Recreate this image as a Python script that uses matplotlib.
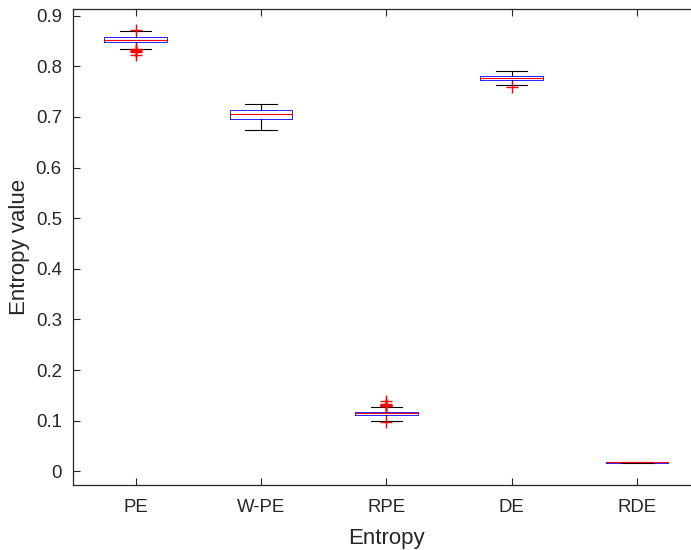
import matplotlib
matplotlib.use("Agg")
import matplotlib.pyplot as plt

plt.rcParams['font.family'] = ['Liberation Sans', 'DejaVu Sans']

# box statistics
labels = ["PE", "W-PE", "RPE", "DE", "RDE"]
medians = [0.852, 0.705, 0.1146, 0.776, 0.0178]
q1 = [0.847, 0.695, 0.1107, 0.7727, 0.0176]
q3 = [0.857, 0.7127, 0.1178, 0.780, 0.0180]
whislo = [0.835, 0.6745, 0.100, 0.7635, 0.0174]
whishi = [0.870, 0.726, 0.127, 0.790, 0.0182]
fliers = [
    [0.871, 0.834, 0.832, 0.830, 0.829, 0.823],
    [],
    [0.131, 0.130, 0.132, 0.129, 0.133, 0.140, 0.098],
    [0.759],
    [],
]

stats = []
for i in range(len(labels)):
    stats.append(dict(label=labels[i], med=medians[i], q1=q1[i], q3=q3[i],
                      whislo=whislo[i], whishi=whishi[i], fliers=fliers[i]))

fig = plt.figure(figsize=(6.91, 5.5), dpi=100)
# right edge of the axes runs past the figure, as in the reference
ax = fig.add_axes([0.1056, 0.118, 0.907, 0.8665])

ax.bxp(stats, widths=0.5, showfliers=True,
       boxprops=dict(color='blue', linewidth=0.6),
       medianprops=dict(color='red', linewidth=0.8),
       whiskerprops=dict(color='black', linewidth=0.8),
       capprops=dict(color='black', linewidth=0.8),
       capwidths=0.25,
       flierprops=dict(marker='+', markeredgecolor='red', markersize=8,
                       linestyle='none'))

ax.set_xlim(0.5, 5.5)
ax.set_ylim(-0.027, 0.914)
ax.set_yticks([0, 0.1, 0.2, 0.3, 0.4, 0.5, 0.6, 0.7, 0.8, 0.9])
ax.set_yticklabels(["0", "0.1", "0.2", "0.3", "0.4", "0.5", "0.6", "0.7", "0.8", "0.9"])
ax.tick_params(direction='in', length=5, width=0.8, labelsize=13.4,
               colors='#262626', top=True, right=False)
ax.tick_params(axis='x', pad=10)
ax.tick_params(axis='y', pad=8)
for s in ax.spines.values():
    s.set_color('#262626')
    s.set_linewidth(0.9)
ax.spines['right'].set_visible(False)

ax.set_xlabel("Entropy", fontsize=16, color='#262626', labelpad=9)
ax.set_ylabel("Entropy value", fontsize=16, color='#262626', labelpad=4)

fig.savefig("out.png", dpi=100)
